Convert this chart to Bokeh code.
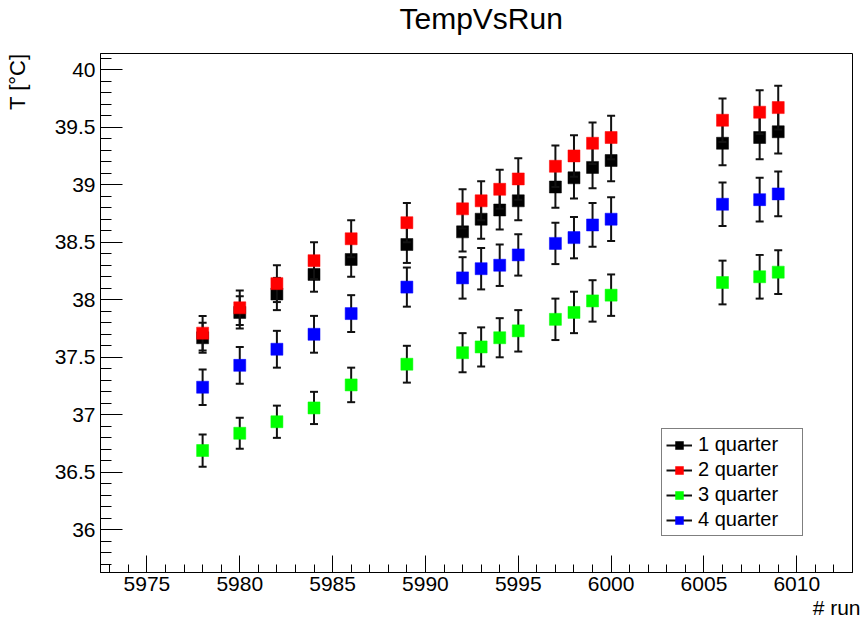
import math
from bokeh.plotting import figure
from bokeh.models import (ColumnDataSource, Range1d, SingleIntervalTicker, Legend, LegendItem,
                          Title, CustomJSTickFormatter)
from bokeh.embed import file_html
from bokeh.resources import INLINE

runs = [5978, 5980, 5982, 5984, 5986, 5989, 5992, 5993, 5994, 5995, 5997, 5998, 5999, 6000, 6006, 6008, 6009]
q1 = [37.67, 37.89, 38.05, 38.22, 38.35, 38.48, 38.59, 38.70, 38.78, 38.86, 38.98, 39.06, 39.15, 39.21, 39.36, 39.41, 39.46]
q2 = [37.71, 37.93, 38.14, 38.34, 38.53, 38.67, 38.79, 38.86, 38.96, 39.05, 39.16, 39.25, 39.36, 39.41, 39.56, 39.63, 39.67]
q3 = [36.69, 36.84, 36.94, 37.06, 37.26, 37.44, 37.54, 37.59, 37.67, 37.73, 37.83, 37.89, 37.99, 38.04, 38.15, 38.20, 38.24]
q4 = [37.24, 37.43, 37.57, 37.70, 37.88, 38.11, 38.19, 38.27, 38.30, 38.39, 38.49, 38.54, 38.65, 38.70, 38.83, 38.87, 38.92]
e1 = [0.13, 0.14, 0.14, 0.15, 0.15, 0.16, 0.17, 0.17, 0.17, 0.17, 0.18, 0.18, 0.18, 0.18, 0.19, 0.19, 0.19]
e2 = [0.15, 0.15, 0.16, 0.16, 0.16, 0.17, 0.17, 0.17, 0.17, 0.18, 0.18, 0.18, 0.18, 0.19, 0.19, 0.19, 0.19]
e3 = [0.14, 0.135, 0.14, 0.14, 0.15, 0.16, 0.17, 0.17, 0.17, 0.18, 0.18, 0.18, 0.18, 0.18, 0.19, 0.19, 0.19]
e4 = [0.155, 0.16, 0.16, 0.16, 0.16, 0.17, 0.18, 0.18, 0.18, 0.18, 0.18, 0.18, 0.19, 0.19, 0.19, 0.19, 0.195]
series_names = ["1 quarter", "2 quarter", "3 quarter", "4 quarter"]
series_colors = ["#000000", "#ff0000", "#00ff00", "#0000ff"]

FONT = "Liberation Sans"

p = figure(width=862, height=621, output_backend="svg", toolbar_location=None,
           x_range=Range1d(5972.5, 6013.0), y_range=Range1d(35.63, 40.14),
           min_border_left=100, min_border_right=10, min_border_top=53, min_border_bottom=49)
p.background_fill_color = "white"
p.border_fill_color = "white"
p.outline_line_color = "black"
p.outline_line_width = 1
p.xgrid.visible = False
p.ygrid.visible = False

# second (blank) line only lifts the title away from the frame
p.title.text = "TempVsRun\n "
p.title.align = "left"
p.title.offset = 299
p.title.text_font = FONT
p.title.text_font_size = "30px"
p.title.text_font_style = "normal"
p.title.text_color = "black"
p.title.text_line_height = 0.56
p.title.standoff = 0

p.xaxis.ticker = SingleIntervalTicker(interval=5, num_minor_ticks=5)
p.yaxis.ticker = SingleIntervalTicker(interval=0.5, num_minor_ticks=5)
p.yaxis.formatter = CustomJSTickFormatter(code="return String(Math.round(tick*10)/10)")
for ax in (p.xaxis[0], p.yaxis[0]):
    ax.axis_line_color = "black"
    ax.major_tick_line_color = "black"
    ax.minor_tick_line_color = "black"
    ax.major_tick_out = 0
    ax.minor_tick_out = 0
    ax.major_label_text_font = FONT
    ax.major_label_text_font_size = "21px"
    ax.major_label_text_color = "black"
p.yaxis.major_tick_in = 22
p.yaxis.minor_tick_in = 11
p.xaxis.major_tick_in = 17
p.xaxis.minor_tick_in = 8
p.yaxis.major_label_standoff = 5
p.xaxis.major_label_standoff = 4

p.add_layout(Title(text="# run", align="right", text_font=FONT, text_font_size="21px",
                   text_font_style="normal", text_color="black", standoff=0, offset=-8), "below")
p.add_layout(Title(text="T [°C]\n ", align="right", text_font=FONT, text_font_size="22px",
                   text_font_style="normal", text_color="black", text_line_height=0.85,
                   standoff=0), "left")

ys = [q1, q2, q3, q4]
es = [e1, e2, e3, e4]
items = []
for name, col, y, e in zip(series_names, series_colors, ys, es):
    src = ColumnDataSource(dict(x=runs, y=y,
                                lo=[a - b for a, b in zip(y, e)],
                                hi=[a + b for a, b in zip(y, e)]))
    bars = p.segment(x0="x", y0="lo", x1="x", y1="hi", source=src, line_color="#111111", line_width=2)
    p.scatter(x="x", y="lo", source=src, marker="dash", size=8, line_color="#111111", line_width=2)
    p.scatter(x="x", y="hi", source=src, marker="dash", size=8, line_color="#111111", line_width=2)
    sq = p.scatter(x="x", y="y", source=src, marker="square", size=12,
                   fill_color=col, line_color=col, line_width=0.5)
    items.append(LegendItem(label=name, renderers=[bars, sq]))

legend = Legend(items=items, location=(561, 36), orientation="vertical",
                border_line_color="black", border_line_width=1, background_fill_alpha=1,
                label_text_font=FONT, label_text_font_size="20px", label_text_color="black",
                glyph_height=20, glyph_width=26, label_height=20, label_width=100,
                label_standoff=6, spacing=2, padding=4, margin=0)
p.add_layout(legend, "center")

open("out.html", "w").write(file_html(p, INLINE))
